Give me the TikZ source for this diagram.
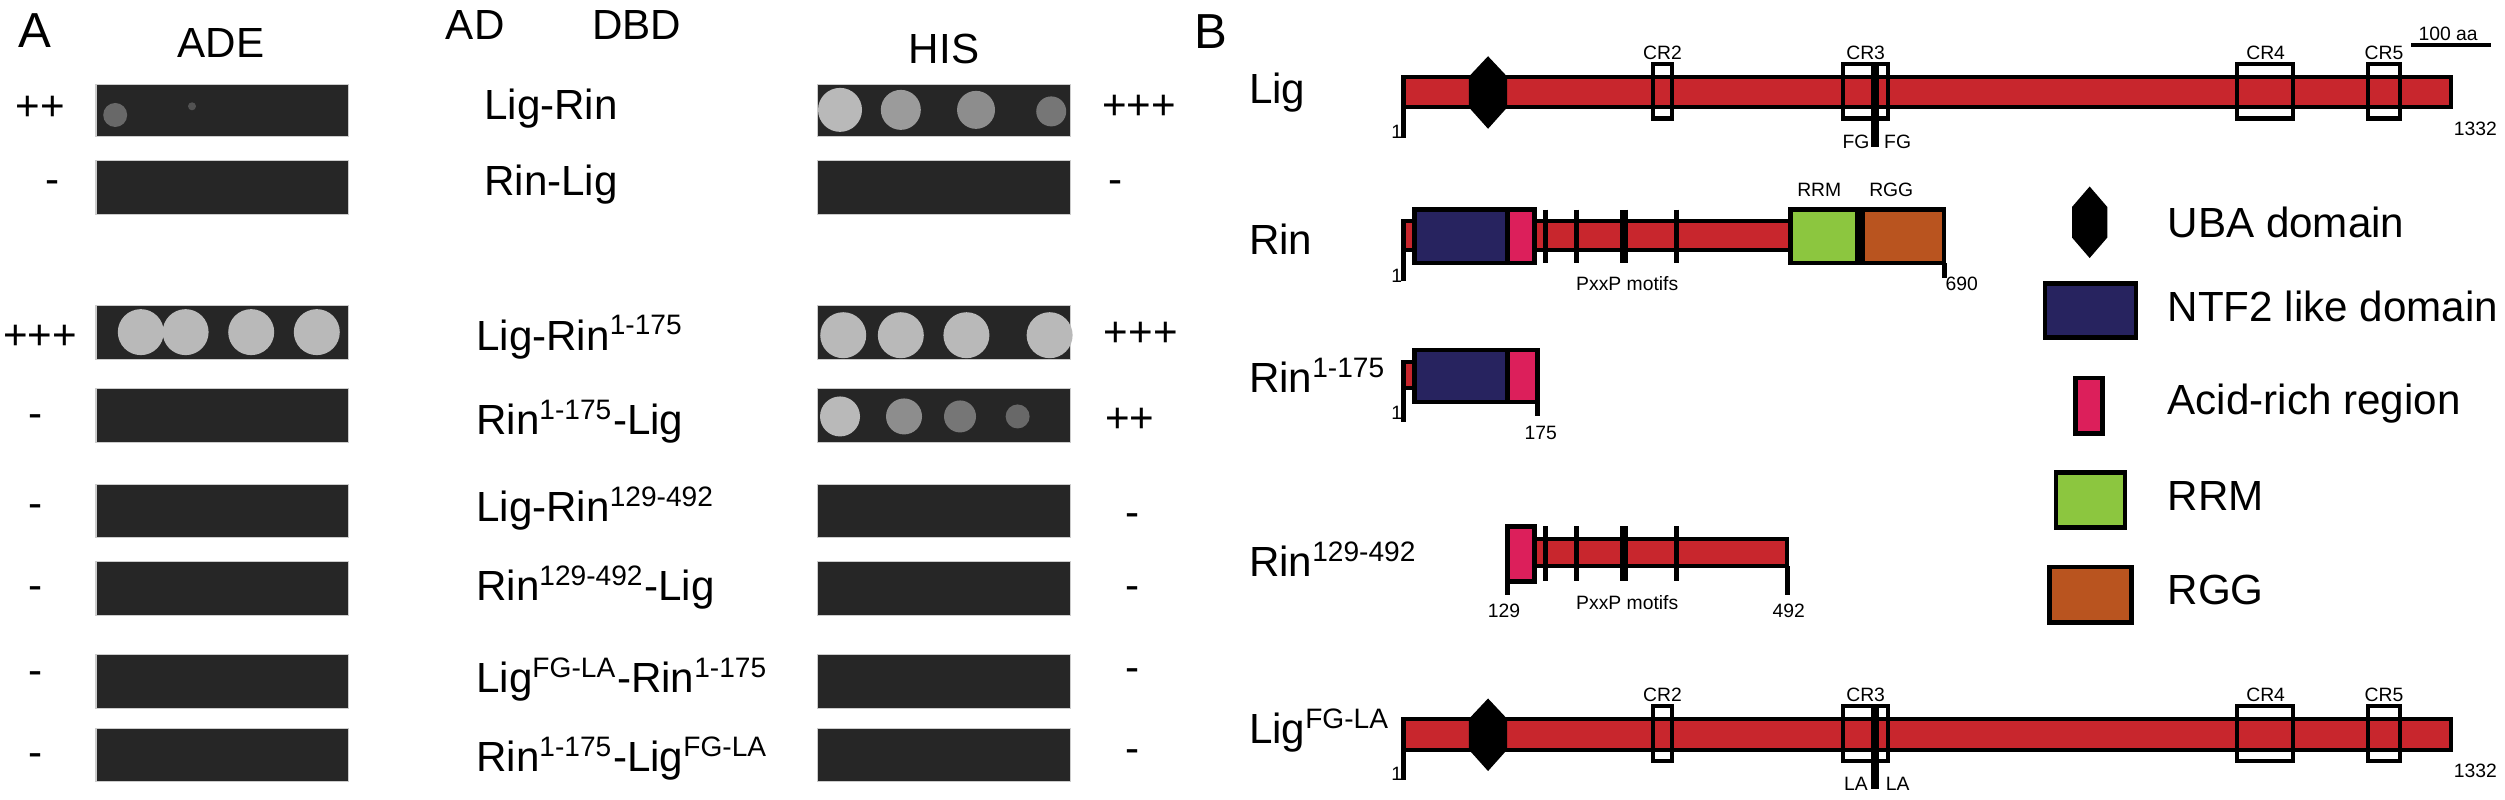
\documentclass[tikz,border=0pt]{standalone}
\usepackage{fontspec}
\setmainfont{Liberation Sans}
\definecolor{ligred}{HTML}{C8262D}
\definecolor{ntfblue}{HTML}{27235F}
\definecolor{acidpink}{HTML}{DC1F5B}
\definecolor{rrmgreen}{HTML}{8CC63F}
\definecolor{rggorange}{HTML}{B9541F}
\definecolor{plate}{HTML}{262626}
\newcommand{\sups}[1]{\textsuperscript{#1}}
\tikzset{
  strip/.style={fill=plate, draw=gray!40, line width=0.3pt},
  colony/.style={fill=gray!55, draw=none},
  construct/.style={font=\fontsize{12}{12}\selectfont, anchor=west, inner sep=1pt},
  score/.style={font=\fontsize{12}{12}\selectfont},
  bar/.style={fill=ligred, draw=black, line width=1.1pt},
  dom/.style={draw=black, line width=1.3pt},
  tick/.style={line width=1.4pt},
  cr/.style={draw=black, line width=1.2pt},
  small/.style={font=\fontsize{5.5}{5.5}\selectfont},
  legend/.style={font=\fontsize{12}{12}\selectfont, anchor=west}
}
\begin{document}
\begin{tikzpicture}[x=0.016cm, y=-0.00511cm]
\useasboundingbox (0,0) rectangle (1565.6,1565.6);
% panel A
\node[font=\fontsize{14}{14}\selectfont] (pa) at (22,60) {A};
\node[score] (ade) at (138,85) {ADE};
\node[score] (ad) at (297,48) {AD};
\node[score] (dbd) at (398,48) {DBD};
\node[score] (his) at (590,95) {HIS};
% plate strips
\foreach \y/\h in {165/268,315/420,597/703,760/866,948/1052,1098/1204,1280/1386,1425/1530} {
  \draw[strip] (60,\y) rectangle (218,\h);
  \draw[strip] (511,\y) rectangle (669,\h);
}
% colonies
\fill[colony, fill opacity=0.45] (72,225) circle[radius=0.12cm];
\fill[colony, fill opacity=0.3] (120,208) circle[radius=0.04cm];
\foreach \x in {88,116,157,198} \fill[colony] (\x,650) circle[radius=0.23cm];
\foreach \x in {527,563,604,656} \fill[colony] (\x,656) circle[radius=0.23cm];
\fill[colony] (525,215) circle[radius=0.22cm];
\fill[colony, fill opacity=0.8] (563,215) circle[radius=0.2cm];
\fill[colony, fill opacity=0.7] (610,215) circle[radius=0.19cm];
\fill[colony, fill opacity=0.55] (657,218) circle[radius=0.15cm];
\fill[colony] (525,815) circle[radius=0.2cm];
\fill[colony, fill opacity=0.7] (565,815) circle[radius=0.18cm];
\fill[colony, fill opacity=0.55] (600,815) circle[radius=0.16cm];
\fill[colony, fill opacity=0.45] (636,815) circle[radius=0.12cm];
% construct labels
\node[construct] (l1) at (300,212) {Lig-Rin};
\node[construct] (l2) at (300,362) {Rin-Lig};
\node[construct] (l3) at (295,660) {Lig-Rin\sups{1-175}};
\node[construct] (l4) at (295,825) {Rin\sups{1-175}-Lig};
\node[construct] (l5) at (295,995) {Lig-Rin\sups{129-492}};
\node[construct] (l6) at (295,1150) {Rin\sups{129-492}-Lig};
\node[construct] (l7) at (295,1330) {Lig\sups{FG-LA}-Rin\sups{1-175}};
\node[construct] (l8) at (295,1485) {Rin\sups{1-175}-Lig\sups{FG-LA}};
% scores
\node[score] (s1) at (25,212) {++};
\node[score] (s2) at (33,367) {-};
\node[score] (s3) at (25,660) {+++};
\node[score] (s4) at (22,825) {-};
\node[score] (s5) at (22,1000) {-};
\node[score] (s6) at (22,1160) {-};
\node[score] (s7) at (22,1328) {-};
\node[score] (s8) at (22,1488) {-};
\node[score] (h1) at (712,210) {+++};
\node[score] (h2) at (697,367) {-};
\node[score] (h3) at (713,655) {+++};
\node[score] (h4) at (706,822) {++};
\node[score] (h5) at (708,1018) {-};
\node[score] (h6) at (708,1160) {-};
\node[score] (h7) at (708,1322) {-};
\node[score] (h8) at (708,1480) {-};
% panel B
\node[font=\fontsize{14}{14}\selectfont] (pb) at (757,62) {B};
\node[construct] (b1) at (778,182) {Lig};
\node[construct] (b2) at (778,468) {Rin};
\node[construct] (b3) at (778,735) {Rin\sups{1-175}};
\node[construct] (b4) at (778,1095) {Rin\sups{129-492}};
\node[construct] (b5) at (778,1430) {Lig\sups{FG-LA}};
% scale bar
\draw[line width=1.4pt] (1507,88) -- (1557,88);
\node[small] (sc) at (1530,66) {100 aa};
% Lig and LigFG-LA
\foreach \y/\a/\b in {180/FG/FG, 1437/LA/LA} {
  \draw[bar] (877,\y-30) rectangle (1532,\y+30);
  \draw[tick] (877,\y-30) -- (877,\y+90);
  \node[small] at (873,\y+78) {1};
  \node[small] at (1547,\y+72) {1332};
  \fill[black] (918,\y-30) -- (930,\y-70) -- (942,\y-30) -- (942,\y+30) -- (930,\y+72) -- (918,\y+30) -- cycle;
  \draw[cr] (1033,\y-55) rectangle (1045,\y+52);
  \draw[cr] (1152,\y-55) rectangle (1180,\y+52);
  \draw[cr] (1398,\y-55) rectangle (1433,\y+52);
  \draw[cr] (1480,\y-55) rectangle (1500,\y+52);
  \draw[line width=2.2pt] (1172,\y-55) -- (1172,\y+108);
  \node[small] at (1039,\y-77) {CR2};
  \node[small] at (1166,\y-77) {CR3};
  \node[small] at (1416,\y-77) {CR4};
  \node[small] at (1490,\y-77) {CR5};
  \node[small] at (1160,\y+98) {\a};
  \node[small] at (1186,\y+98) {\b};
}
% Rin
\draw[bar] (877,432) rectangle (1215,490);
\draw[tick] (877,432) -- (877,550);
\node[small] at (873,540) {1};
\draw[dom, fill=ntfblue] (884,410) rectangle (942,515);
\draw[dom, fill=acidpink] (942,410) rectangle (959,515);
\foreach \x in {966,985,1048} \draw[tick] (\x,410) -- (\x,515);
\draw[line width=2.2pt] (1015,410) -- (1015,515);
\draw[dom, fill=rrmgreen] (1119,410) rectangle (1161,515);
\draw[dom, fill=rggorange] (1164,410) rectangle (1215,515);
\draw[tick] (1215,515) -- (1215,545);
\node[small] at (1226,555) {690};
\node[small] at (1017,555) {PxxP motifs};
\node[small] at (1137,372) {RRM};
\node[small] at (1182,372) {RGG};
% Rin 1-175
\draw[bar] (877,708) rectangle (961,760);
\draw[tick] (877,708) -- (877,825);
\node[small] at (873,808) {1};
\draw[dom, fill=ntfblue] (884,685) rectangle (942,787);
\draw[dom, fill=acidpink] (942,685) rectangle (961,787);
\draw[tick] (961,787) -- (961,815);
\node[small] at (963,848) {175};
% Rin 129-492
\draw[bar] (942,1055) rectangle (1117,1108);
\draw[dom, fill=acidpink] (942,1030) rectangle (959,1138);
\foreach \x in {966,985,1048} \draw[tick] (\x,1030) -- (\x,1138);
\draw[line width=2.2pt] (1015,1030) -- (1015,1138);
\draw[tick] (942,1138) -- (942,1165);
\draw[tick] (1117,1108) -- (1117,1165);
\node[small] at (940,1195) {129};
\node[small] at (1118,1195) {492};
\node[small] at (1017,1180) {PxxP motifs};
% legend
\fill[black] (1295,405) -- (1306,365) -- (1317,405) -- (1317,465) -- (1306,505) -- (1295,465) -- cycle;
\draw[dom, fill=ntfblue] (1278,555) rectangle (1335,660);
\draw[dom, fill=acidpink] (1297,740) rectangle (1314,848);
\draw[dom, fill=rrmgreen] (1285,925) rectangle (1328,1032);
\draw[dom, fill=rggorange] (1281,1110) rectangle (1332,1218);
\node[legend] (k1) at (1347,435) {UBA domain};
\node[legend] (k2) at (1347,600) {NTF2 like domain};
\node[legend] (k3) at (1347,790) {Acid-rich region};
\node[legend] (k4) at (1347,970) {RRM};
\node[legend] (k5) at (1347,1155) {RGG};
\end{tikzpicture}
\end{document}
